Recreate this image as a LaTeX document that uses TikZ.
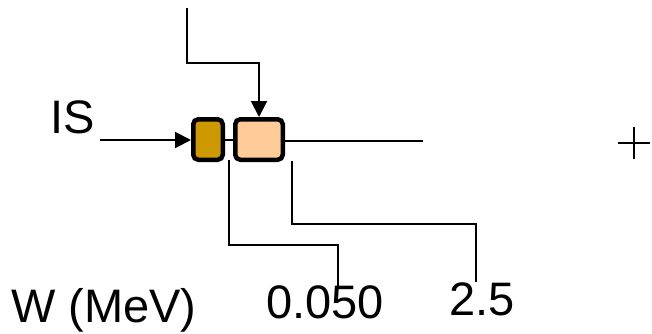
\documentclass[tikz,border=0pt]{standalone}
\usepackage{fontspec}
\setmainfont{Liberation Sans}
\usetikzlibrary{arrows.meta}
\definecolor{gold}{HTML}{CC9900}
\definecolor{peach}{HTML}{FFCC99}
\begin{document}
\begin{tikzpicture}[x=1pt,y=-1pt,
  box/.style={draw=black,line width=4.5pt,rounded corners=5pt,minimum height=40.5pt,inner sep=0pt},
  wire/.style={draw=black,line width=2pt},
  arr/.style={wire,-{Triangle[length=16pt,width=16pt]}},
  lbl/.style={font=\fontsize{47}{50}\selectfont,inner sep=0pt,anchor=base west}]
\useasboundingbox (0,0) rectangle (652,333);
\node[box,fill=gold,minimum width=29.5pt] (sb) at (208,139.5) {};
\node[box,fill=peach,minimum width=47.5pt] (bb) at (259,139.5) {};
\coordinate (top) at (187,8);
\coordinate (isstart) at (100,140);
\coordinate (outend) at (423,141);
\coordinate (l1) at (229,160);
\coordinate (l1e) at (338,287);
\coordinate (l2) at (292,161);
\coordinate (l2e) at (476,282);
\draw[wire] (sb.east) -- (bb.west);
\draw[wire] (bb.east |- outend) -- (outend);
\draw[arr] (isstart) -- (sb.west |- isstart);
\draw[arr] (top) -- (187,63) -| (bb.north);
\draw[wire] (l1) -- (229,245) -| (l1e);
\draw[wire] (l2) -- (292,224) -| (l2e);
\node[lbl] (is) at (50,133) {IS};
\node[lbl] (w) at (11,322) {W (MeV)};
\node[lbl] (v1) at (266,318) {0.050};
\node[lbl] (v2) at (449,315) {2.5};
\coordinate (plus) at (634,143);
\draw[line width=1.8pt] ([xshift=-16pt]plus) -- ([xshift=16pt]plus) ([yshift=-16pt]plus) -- ([yshift=16pt]plus);
\end{tikzpicture}
\end{document}
